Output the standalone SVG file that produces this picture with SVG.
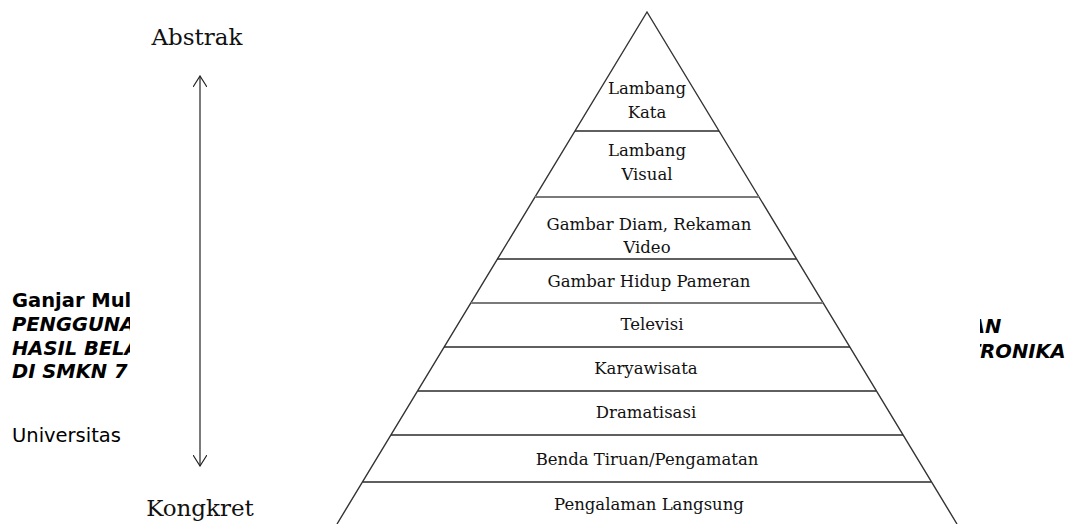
<svg xmlns="http://www.w3.org/2000/svg" width="1073" height="524" viewBox="0 0 1073 524">
<style>
.bg{font-family:"DejaVu Sans","Liberation Sans",sans-serif;font-size:19.5px;fill:#000}
.bgb{font-weight:bold}
.bgi{font-weight:bold;font-style:italic}
.lay{font-family:"DejaVu Serif","Liberation Serif",serif;font-size:16.5px;fill:#111;text-anchor:middle}
.big{font-family:"DejaVu Serif","Liberation Serif",serif;font-size:23px;fill:#111;text-anchor:middle}
.sep{stroke:#2a2a2a;stroke-width:1.4;fill:none}
.sepg{stroke:#7a7a7a;stroke-width:2.2;fill:none}
.edge{stroke:#333;stroke-width:1.4;fill:none}
</style>
<defs>
<marker id="open" viewBox="0 0 12 14" refX="11" refY="7" markerWidth="12" markerHeight="14" markerUnits="userSpaceOnUse" orient="auto-start-reverse">
<path d="M0,0 L11,7 L0,14" fill="none" stroke="#222" stroke-width="1.2"/>
</marker>
</defs>
<rect width="1073" height="524" fill="#fff"/>
<g id="page-text">
<text class="bg bgb" x="12" y="307">Ganjar Mul</text>
<text class="bg bgi" x="12" y="331">PENGGUNA</text>
<text class="bg bgi" x="12" y="355">HASIL BELA</text>
<text class="bg bgi" x="12" y="378">DI SMKN 7</text>
<text class="bg" x="12" y="442">Universitas</text>
<text class="bg bgi" x="970" y="333">AN</text>
<text class="bg bgi" x="967" y="358">TRONIKA</text>
</g>
<rect x="130" y="0" width="850" height="524" fill="#fff"/>
<g id="label-abstrak"><text class="big" x="197" y="45">Abstrak</text></g>
<g id="label-kongkret"><text class="big" x="200" y="516">Kongkret</text></g>
<g id="pyramid-edges">
<path class="edge" d="M337,524 L647,12 L957,524"/>
</g>
<g id="layer-1"><text class="lay" x="647" y="94">Lambang</text><text class="lay" x="647" y="118">Kata</text></g>
<g id="layer-2"><text class="lay" x="647" y="156">Lambang</text><text class="lay" x="647" y="180">Visual</text></g>
<g id="layer-3"><text class="lay" x="649" y="230">Gambar Diam, Rekaman</text><text class="lay" x="647" y="253">Video</text></g>
<g id="layer-4"><text class="lay" x="649" y="287">Gambar Hidup Pameran</text></g>
<g id="layer-5"><text class="lay" x="652" y="330">Televisi</text></g>
<g id="layer-6"><text class="lay" x="646" y="374">Karyawisata</text></g>
<g id="layer-7"><text class="lay" x="646" y="418">Dramatisasi</text></g>
<g id="layer-8"><text class="lay" x="647" y="465">Benda Tiruan/Pengamatan</text></g>
<g id="layer-9"><text class="lay" x="649" y="510">Pengalaman Langsung</text></g>
<g id="separators">
<line class="sep" x1="575" y1="131" x2="719" y2="131"/>
<line class="sepg" x1="535" y1="197" x2="759" y2="197"/>
<line class="sep" x1="497" y1="259" x2="796" y2="259"/>
<line class="sepg" x1="471" y1="303" x2="823" y2="303"/>
<line class="sep" x1="444" y1="347" x2="850" y2="347"/>
<line class="sep" x1="418" y1="391" x2="876" y2="391"/>
<line class="sep" x1="391" y1="435" x2="903" y2="435"/>
<line class="sep" x1="363" y1="482" x2="931" y2="482"/>
</g>
<g id="connectors">
<line x1="200" y1="76" x2="200" y2="466" stroke="#222" stroke-width="1.2" marker-start="url(#open)" marker-end="url(#open)"/>
</g>
</svg>
